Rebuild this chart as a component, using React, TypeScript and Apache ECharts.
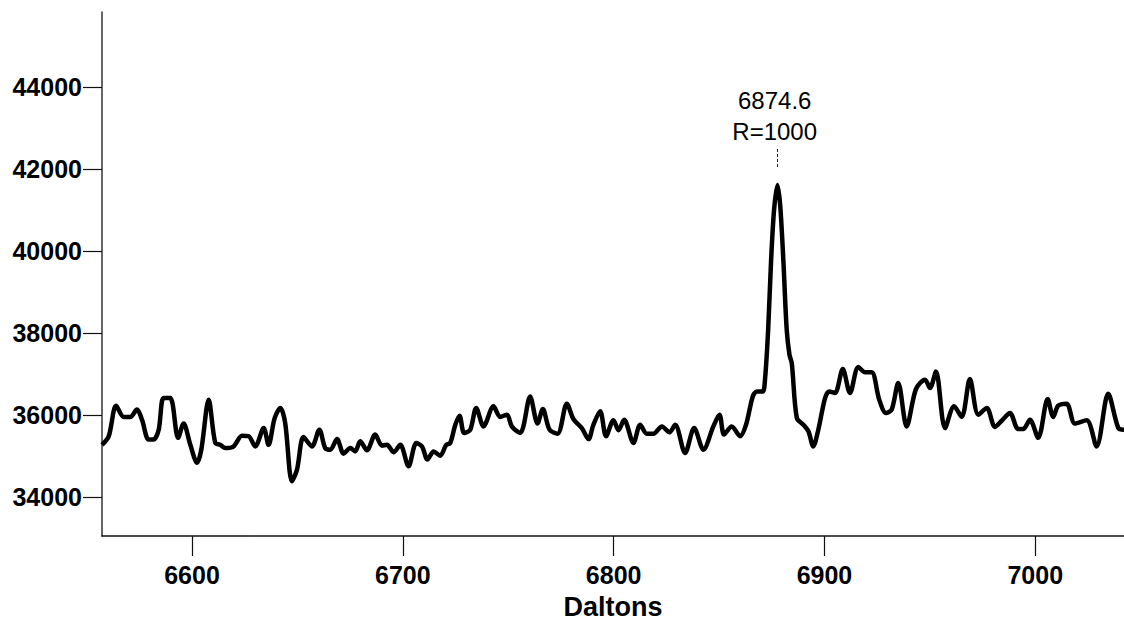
import React, { useEffect, useRef } from "react";
import * as echarts from "echarts";

const daltons = [
  6557.3, 6560.5, 6564.0, 6567.6, 6570.7, 6573.9, 6576.3, 6579.4, 6581.8, 6584.2,
  6586.5, 6589.7, 6593.4, 6596.0, 6599.2, 6602.4, 6604.4, 6607.9, 6611.0, 6613.4,
  6615.8, 6619.7, 6623.7, 6626.8, 6630.0, 6634.0, 6636.3, 6639.2, 6641.9, 6644.2,
  6647.4, 6649.8, 6652.9, 6656.9, 6660.4, 6663.2, 6665.6, 6668.8, 6671.9, 6675.1,
  6677.4, 6679.8, 6683.0, 6686.9, 6690.1, 6692.5, 6695.6, 6698.8, 6702.7, 6706.4,
  6709.1, 6711.7, 6714.6, 6717.7, 6720.6, 6722.5, 6724.9, 6726.9, 6729.1, 6732.0,
  6734.8, 6738.3, 6743.0, 6746.2, 6749.4, 6751.7, 6755.7, 6757.2, 6760.4, 6763.9,
  6766.4, 6769.6, 6773.4, 6777.8, 6780.9, 6784.9, 6788.1, 6790.4, 6793.6, 6796.4,
  6799.9, 6802.3, 6805.0, 6809.4, 6812.6, 6815.7, 6818.9, 6822.9, 6826.5, 6829.2,
  6833.9, 6838.2, 6842.6, 6847.3, 6850.2, 6852.4, 6856.0, 6860.0, 6862.8, 6866.0,
  6867.9, 6870.7, 6871.8, 6873.3, 6874.7, 6876.1, 6877.7, 6879.0, 6880.5, 6882.1,
  6883.4, 6884.5, 6886.9, 6890.0, 6892.4, 6894.7, 6897.1, 6900.3, 6902.3, 6905.0,
  6908.7, 6912.1, 6916.1, 6919.3, 6922.4, 6926.0, 6929.2, 6931.9, 6935.0, 6939.0,
  6943.4, 6947.7, 6950.1, 6952.9, 6957.2, 6961.5, 6965.1, 6969.0, 6973.0, 6977.0,
  6980.9, 6984.5, 6988.0, 6991.9, 6994.3, 6997.5, 7001.4, 7005.9, 7008.5, 7010.9,
  7014.9, 7018.8, 7024.4, 7029.1, 7034.6, 7039.4, 7042.1,
];

const intensity = [
  35280, 35490, 36235, 35960, 35960, 36140, 35890, 35410, 35410, 35650,
  36420, 36420, 35450, 35800, 35280, 34840, 35160, 36380, 35330, 35280,
  35200, 35240, 35500, 35490, 35240, 35690, 35280, 35930, 36180, 35810,
  34390, 34675, 35470, 35240, 35650, 35200, 35160, 35420, 35065, 35200,
  35120, 35365, 35145, 35530, 35260, 35280, 35100, 35280, 34755, 35325,
  35240, 34920, 35120, 35015, 35280, 35325, 35770, 35990, 35570, 35650,
  36180, 35730, 36220, 35960, 36015, 35730, 35570, 35730, 36460, 35800,
  36155, 35650, 35550, 36285, 35910, 35690, 35420, 35770, 36100, 35490,
  35880, 35635, 35890, 35325, 35770, 35550, 35550, 35730, 35585, 35770,
  35080, 35690, 35160, 35730, 36015, 35530, 35730, 35490, 35770, 36460,
  36580, 36580, 36870, 38090, 39790, 41010, 41620, 41130, 39790, 38090,
  37480, 37275, 35935, 35770, 35610, 35240, 35650, 36420, 36580, 36545,
  37130, 36545, 37180, 37050, 37050, 36380, 36055, 36140, 36790, 35730,
  36640, 36870, 36665, 37070, 35690, 36220, 35960, 36885, 36015, 36180,
  35715, 35890, 36055, 35665, 35665, 35890, 35450, 36400, 35960, 36235,
  36285, 35800, 35880, 35240, 36525, 35690, 35650,
];

const xTicks = [6600, 6700, 6800, 6900, 7000];
const yTicks = [34000, 36000, 38000, 40000, 42000, 44000];

const peakMass = "6874.6";
const peakResolution = "R=1000";
const peakX = 6877.6;
const peakLabelY = 43313;
const peakMarkerFrom = 42060;
const peakMarkerTo = 42545;

const xMin = 6557.3;
const xMax = 7042.1;
const yMin = 33055;
const yMax = 45842;

export default function App() {
  const ref = useRef<HTMLDivElement>(null);

  useEffect(() => {
    if (!ref.current) return;
    const chart = echarts.init(ref.current, null, { renderer: "svg" });
    const font = "'Liberation Sans', Arial, Helvetica, sans-serif";
    chart.setOption({
      animation: false,
      backgroundColor: "#ffffff",
      grid: { left: 102, right: 0, top: 12, bottom: 88.5, containLabel: false },
      xAxis: {
        type: "value",
        min: xMin,
        max: xMax,
        name: "Daltons",
        nameLocation: "middle",
        nameGap: 57,
        nameTextStyle: { fontFamily: font, fontSize: 27, fontWeight: "bold", color: "#000" },
        axisLine: { show: true, lineStyle: { color: "#111", width: 1.5 } },
        axisTick: {
          show: true,
          inside: false,
          length: 20,
          customValues: xTicks,
          lineStyle: { color: "#111", width: 1.2 },
        },
        axisLabel: {
          show: true,
          customValues: xTicks,
          formatter: (v: number) => String(v),
          margin: 26,
          fontFamily: font,
          fontSize: 25,
          fontWeight: "bold",
          color: "#000",
        },
        splitLine: { show: false },
      },
      yAxis: {
        type: "value",
        min: yMin,
        max: yMax,
        axisLine: { show: true, lineStyle: { color: "#333", width: 1.5 } },
        axisTick: {
          show: true,
          inside: false,
          length: 19,
          customValues: yTicks,
          lineStyle: { color: "#111", width: 1.2 },
        },
        axisLabel: {
          show: true,
          customValues: yTicks,
          formatter: (v: number) => String(v),
          margin: 20,
          fontFamily: font,
          fontSize: 25,
          fontWeight: "bold",
          color: "#000",
        },
        splitLine: { show: false },
      },
      series: [
        {
          type: "line",
          data: daltons.map((d, i) => [d, intensity[i]]),
          showSymbol: false,
          smooth: 0.3,
          clip: true,
          lineStyle: { color: "#000", width: 4.5 },
          markLine: {
            silent: true,
            symbol: "none",
            label: { show: false },
            lineStyle: { color: "#222", width: 1, type: [3, 2] },
            data: [[{ coord: [peakX, peakMarkerFrom] }, { coord: [peakX, peakMarkerTo] }]],
          },
          markPoint: {
            silent: true,
            symbol: "circle",
            symbolSize: 1,
            itemStyle: { color: "rgba(0,0,0,0)" },
            label: {
              show: true,
              position: "inside",
              formatter: peakMass + "\n" + peakResolution,
              fontFamily: font,
              fontSize: 24,
              lineHeight: 31,
              color: "#000",
            },
            data: [{ coord: [peakX - 1.2, peakLabelY] }],
          },
        },
      ],
    });
    return () => chart.dispose();
  }, []);

  return (
    <div
      ref={ref}
      style={{ position: "absolute", left: 0, top: 0, width: 1124, height: 625, background: "#fff" }}
    />
  );
}
